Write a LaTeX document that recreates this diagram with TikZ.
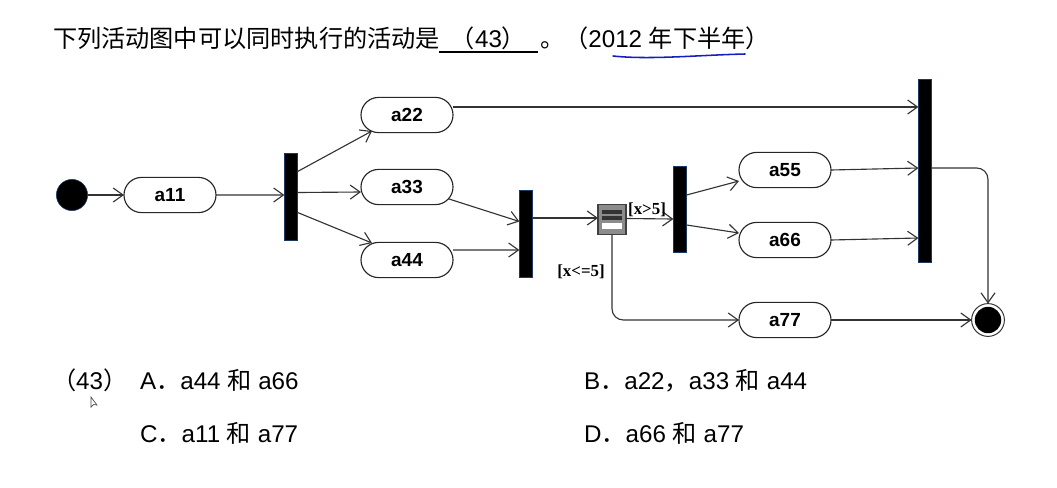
\documentclass[tikz,border=0pt]{standalone}
\usepackage{fontspec}
\setmainfont{Liberation Sans}
\newfontfamily\cjk{Noto Sans CJK SC}
\newfontfamily\lblfont{Liberation Serif}
\usetikzlibrary{shapes.misc,arrows.meta,calc}
\definecolor{barblue}{RGB}{28,58,96}
\definecolor{penblue}{RGB}{20,30,190}
\newcommand{\zh}[1]{{\cjk #1}}

\begin{document}
\begin{tikzpicture}[
  x=0.025cm,y=-0.025cm,
  activity/.style={draw=black!85,fill=white,rounded rectangle,line width=0.8pt,
                   minimum width=2.3cm,minimum height=0.88cm,inner sep=0pt,outer sep=0pt,
                   font=\fontsize{13.5}{15}\selectfont\bfseries},
  bar/.style={draw=barblue,fill=black,line width=0.5pt,minimum width=0.33cm,inner sep=0pt,outer sep=0pt},
  flow/.style={draw=black!80,line width=0.8pt,-{Straight Barb[length=7pt,width=10pt]}},
  qtext/.style={anchor=base west,inner sep=0pt,outer sep=0pt,font=\fontsize{17.2}{20}\selectfont},
  lbl/.style={inner sep=0pt,font=\lblfont\fontsize{12}{14}\selectfont\bfseries}
]
  \useasboundingbox (0,0) rectangle (1057,487);

  %% ---- Question line ----
  \node[qtext] (title) at (53,47) {\zh{下列活动图中可以同时执行的活动是}};
  \node[qtext,minimum width=2.475cm,align=center] (blank) at (439,47) {\zh{（}43\zh{）}};
  \draw[line width=1pt] ($(blank.base west)+(0,5)$) -- ($(blank.base east)+(0,5)$);
  \node[qtext] (year) at (540,47) {\zh{。（}2012 \zh{年下半年）}};
  \draw[penblue,line width=1.1pt,line cap=round] (613,56) .. controls (650,60) and (700,55) .. (745,54);

  %% ---- Start and end ----
  \node[circle,fill=black,draw=barblue,minimum size=0.78cm,inner sep=0pt,outer sep=0pt] (start) at (72,195) {};
  \node[circle,draw=black!80,fill=white,line width=0.7pt,minimum size=0.82cm,inner sep=0pt,outer sep=0pt] (end) at (988,320) {};
  \node[circle,fill=black,minimum size=0.66cm,inner sep=0pt] (endin) at (988,320) {};

  %% ---- Activities ----
  \node[activity] (a11) at (170,195) {a11};
  \node[activity] (a22) at (407,115) {a22};
  \node[activity] (a33) at (407,187) {a33};
  \node[activity] (a44) at (407,260) {a44};
  \node[activity] (a55) at (785,170) {a55};
  \node[activity] (a66) at (785,240) {a66};
  \node[activity] (a77) at (785,320) {a77};

  %% ---- Fork and join bars ----
  \node[bar,minimum height=2.18cm] (bar1) at (291,196.5) {};
  \node[bar,minimum height=2.18cm] (bar2) at (526,233.5) {};
  \node[bar,minimum height=2.15cm] (bar3) at (680,209) {};
  \node[bar,minimum height=4.58cm] (bar4) at (925,170.5) {};

  %% ---- Decision ----
  \node[draw=black!75,fill=black!45,line width=1pt,minimum width=0.7cm,minimum height=0.74cm,
        inner sep=0pt,outer sep=0pt] (dec) at (612,219.5) {};
  \fill[black!80] ($(dec.center)+(-10,-10)$) rectangle ($(dec.center)+(10,-6)$);
  \fill[black!80] ($(dec.center)+(-10,-4)$) rectangle ($(dec.center)+(10,0)$);
  \fill[white] ($(dec.center)+(-10,3)$) rectangle ($(dec.center)+(10,9)$);

  %% ---- Flows ----
  \draw[flow] (start) -- (a11);
  \draw[flow] (a11) -- (a11 -| bar1.west);
  \draw[flow] ($(bar1.east)+(0,-25)$) -- ($(a22.west)+(11,16)$);
  \draw[flow] ($(bar1.east)+(0,-4)$) -- ($(a33.west)+(0,5)$);
  \draw[flow] ($(bar1.east)+(0,16)$) -- ($(a44.west)+(11,-17)$);
  \draw[flow] ($(a22.east)+(0,-8)$) -- ($(bar4.west)+(0,-63.5)$);
  \draw[flow] ($(a33.east)+(-4,12)$) -- ($(bar2.west)+(0,-12)$);
  \draw[flow] ($(a44.east)+(0,-10)$) -- ($(bar2.west)+(0,16.5)$);
  \draw[flow] ($(bar2.east)+(0,-15.5)$) -- (dec.west |- 0,218);
  \draw[flow] ($(dec.east)+(0,-1)$) -- (bar3.west |- 0,219);
  \draw[flow,rounded corners=8pt] (dec.south) |- (a77.west);
  \draw[flow] ($(bar3.east)+(0,-14)$) -- ($(a55.west)+(0,11)$);
  \draw[flow] ($(bar3.east)+(0,16)$) -- ($(a66.west)+(0,-7)$);
  \draw[flow] (a55.east) -- (bar4.west |- 0,168);
  \draw[flow] (a66.east) -- (bar4.west |- 0,238);
  \draw[flow,rounded corners=8pt] (bar4.east |- 0,168) -| (end.north);
  \draw[flow] (a77.east) -- (end.west);

  %% ---- Guards ----
  \node[lbl] (gt) at (647,210) {[x>5]};
  \node[lbl] (le) at (581,272) {[x<=5]};

  %% ---- Answers ----
  \node[qtext] (num) at (52,389) {\zh{（}43\zh{）}};
  \node[qtext] (optA) at (140,389) {A\zh{．}a44 \zh{和} a66};
  \node[qtext] (optB) at (584,389) {B\zh{．}a22\zh{，}a33 \zh{和} a44};
  \node[qtext] (optC) at (140,442) {C\zh{．}a11 \zh{和} a77};
  \node[qtext] (optD) at (584,442) {D\zh{．}a66 \zh{和} a77};

  %% ---- Mouse pointer ----
  \draw[black!70,line width=0.5pt,fill=white] (91,397) -- (91,407) -- (93.5,404.5) -- (97,405) -- cycle;
\end{tikzpicture}
\end{document}
